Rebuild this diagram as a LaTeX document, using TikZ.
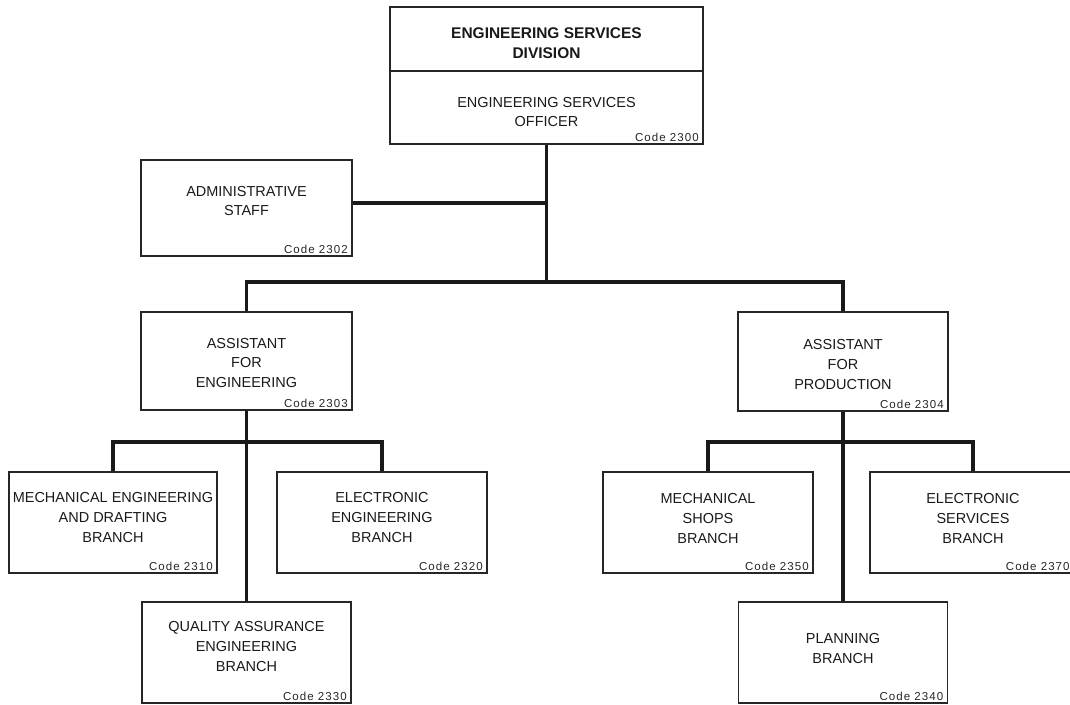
\documentclass[tikz,border=0pt]{standalone}
\usepackage{fontspec}
\setmainfont{Liberation Sans}
\newfontfamily\codefam{Liberation Sans}[LetterSpace=9]
\usetikzlibrary{positioning,calc}

\begin{document}
\begin{tikzpicture}[
    x=0.025cm, y=-0.025cm,
    orgbox/.style={draw=black!85, line width=1.3pt, inner sep=0pt},
    orgtext/.style={align=center, inner sep=0pt, text=black!90,
        font=\fontsize{10.3}{14.2}\selectfont},
    codetag/.style={font=\codefam\fontsize{8.2}{9}\selectfont, text=black!85,
        anchor=south east, inner xsep=3.5pt, inner ysep=2.5pt},
    link/.style={line width=2.8pt, black!90}
]
    \useasboundingbox (0,0) rectangle (1070,704);
    \clip (0,0) rectangle (1070,704);

    % Division head (two stacked boxes)
    \node[orgbox, minimum width=313*0.025cm, minimum height=64*0.025cm] (div) at (546.5,39) {};
    \node[orgtext, font=\fontsize{11}{14.2}\selectfont\bfseries] (divtxt) at ($(div)+(0,4)$)
        {ENGINEERING SERVICES\\DIVISION};
    \node[orgbox, minimum width=313*0.025cm, minimum height=73*0.025cm] (eso) at (546.5,107.5) {};
    \node[orgtext] (esotxt) at ($(eso)+(0,4.5)$) {ENGINEERING SERVICES\\OFFICER};
    \node[codetag] (c2300) at (eso.south east) {Code 2300};

    % Staff and assistants
    \node[orgbox, minimum width=211*0.025cm, minimum height=96*0.025cm] (admin) at (246.5,208) {};
    \node[orgtext] (admintxt) at ($(admin)+(0,-7)$) {ADMINISTRATIVE\\STAFF};
    \node[codetag] (c2302) at (admin.south east) {Code 2302};

    \node[orgbox, minimum width=211*0.025cm, minimum height=98*0.025cm] (asteng) at (246.5,361) {};
    \node[orgtext] (astengtxt) at ($(asteng)+(0,2)$) {ASSISTANT\\FOR\\ENGINEERING};
    \node[codetag] (c2303) at (asteng.south east) {Code 2303};

    \node[orgbox, minimum width=210*0.025cm, minimum height=99*0.025cm] (astprod) at (843,361.5) {};
    \node[orgtext] (astprodtxt) at ($(astprod)+(0,3)$) {ASSISTANT\\FOR\\PRODUCTION};
    \node[codetag] (c2304) at (astprod.south east) {Code 2304};

    % Engineering branches
    \node[orgbox, minimum width=208*0.025cm, minimum height=101*0.025cm] (mecheng) at (113,522.5) {};
    \node[orgtext] (mechengtxt) at ($(mecheng)+(0,-5)$) {MECHANICAL ENGINEERING\\AND DRAFTING\\BRANCH};
    \node[codetag] (c2310) at (mecheng.south east) {Code 2310};

    \node[orgbox, minimum width=210*0.025cm, minimum height=101*0.025cm] (eleceng) at (382,522.5) {};
    \node[orgtext] (elecengtxt) at ($(eleceng)+(0,-5)$) {ELECTRONIC\\ENGINEERING\\BRANCH};
    \node[codetag] (c2320) at (eleceng.south east) {Code 2320};

    \node[orgbox, minimum width=209*0.025cm, minimum height=101*0.025cm] (qae) at (246.5,652.5) {};
    \node[orgtext] (qaetxt) at ($(qae)+(0,-6)$) {QUALITY ASSURANCE\\ENGINEERING\\BRANCH};
    \node[codetag] (c2330) at (qae.south east) {Code 2330};

    % Production branches
    \node[orgbox, minimum width=210*0.025cm, minimum height=101*0.025cm] (mechshop) at (708,522.5) {};
    \node[orgtext] (mechshoptxt) at ($(mechshop)+(0,-4)$) {MECHANICAL\\SHOPS\\BRANCH};
    \node[codetag] (c2350) at (mechshop.south east) {Code 2350};

    \node[orgbox, minimum width=206*0.025cm, minimum height=101*0.025cm] (elecserv) at (973,522.5) {};
    \node[orgtext] (elecservtxt) at ($(elecserv)+(0,-4)$) {ELECTRONIC\\SERVICES\\BRANCH};
    \node[codetag, xshift=-1.5pt] (c2370) at (elecserv.south east) {Code 2370};

    \node[orgbox, minimum width=209*0.025cm, minimum height=101*0.025cm] (plan) at (843,652.5) {};
    \node[orgtext] (plantxt) at ($(plan)+(0,-4)$) {PLANNING\\BRANCH};
    \node[codetag] (c2340) at (plan.south east) {Code 2340};

    % Connectors
    \coordinate (trunk) at (546.5,282);
    \coordinate (adminjoin) at (546.5,203);
    \coordinate (engbar) at (246.5,442);
    \coordinate (prodbar) at (843,442);

    \draw[link] (eso.south) -- (trunk);
    \draw[link] (adminjoin) -- (adminjoin -| admin.east);
    \draw[link] (asteng.north) |- (trunk) -| (astprod.north);

    \draw[link] (asteng.south) -- (qae.north);
    \draw[link] (mecheng.north) |- (engbar) -| (eleceng.north);

    \draw[link] (astprod.south) -- (plan.north);
    \draw[link] (mechshop.north) |- (prodbar) -| (elecserv.north);

\end{tikzpicture}
\end{document}
